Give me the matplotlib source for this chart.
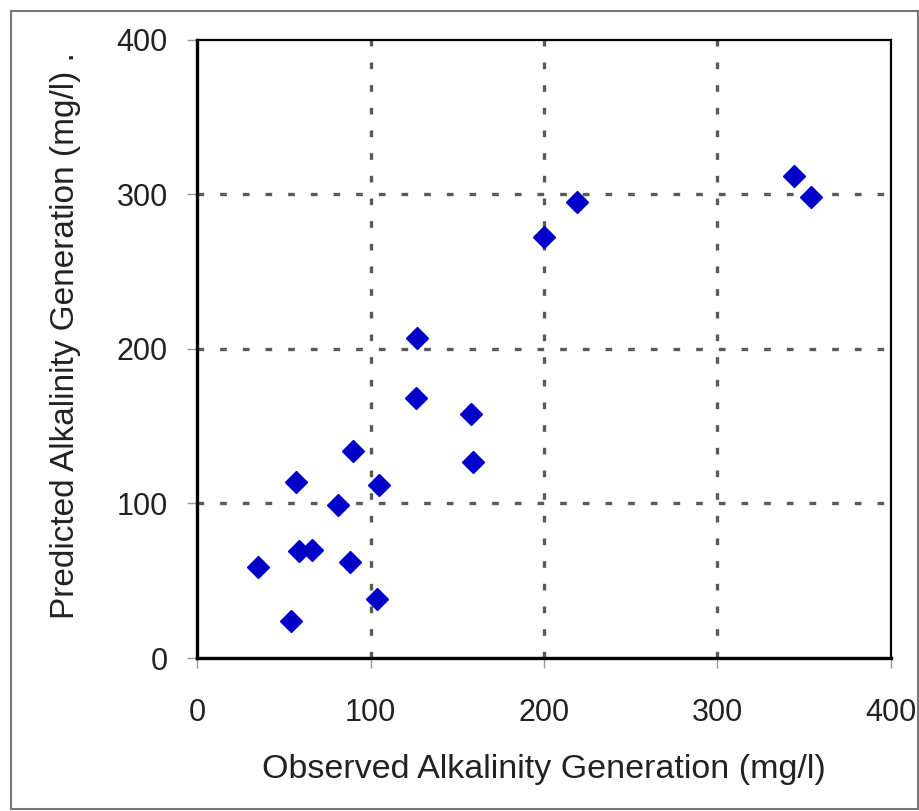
import numpy as np
import matplotlib.pyplot as plt
from matplotlib.patches import Rectangle

# observed vs predicted alkalinity generation (mg/l)
observed = [35, 59, 66, 88, 104, 54, 81, 57, 90, 105, 126, 127, 158, 159, 200, 219, 344, 354]
predicted = [59, 69, 70, 62, 38, 24, 99, 114, 134, 112, 168, 207, 158, 127, 272, 295, 312, 298]

x_ticks = [0, 100, 200, 300, 400]
y_ticks = [0, 100, 200, 300, 400]

plt.rcParams['font.family'] = ['Liberation Sans', 'DejaVu Sans']

fig = plt.figure(figsize=(9.2, 8.11), dpi=100)
ax = fig.add_axes([197 / 920, 1 - 658 / 811, 694 / 920, 618.5 / 811])

# grey frame round the whole picture
fig.patches.append(Rectangle((11 / 920, 1 - 809 / 811), 907 / 920, 798 / 811,
                             transform=fig.transFigure, fill=False,
                             edgecolor='#777777', linewidth=1.5))

# dotted grid on the interior ticks only
for v in x_ticks[1:-1]:
    ax.axvline(v, color='#5a5a5a', linewidth=2.4, linestyle=(0, (2.0, 4.8)), zorder=1)
for v in y_ticks[1:-1]:
    ax.axhline(v, color='#5a5a5a', linewidth=2.4, linestyle=(0, (2.0, 4.8)), zorder=1)

ax.plot(observed, predicted, linestyle='none', marker='D', markersize=11.5,
        color='#0000c8', markeredgecolor='#0000c8', zorder=3)

ax.set_xlim(0, 400)
ax.set_ylim(0, 400)
ax.set_xticks(x_ticks)
ax.set_yticks(y_ticks)
ax.tick_params(direction='out', length=7, width=1, color='#999999',
               labelsize=22, labelcolor='#222222')
ax.tick_params(axis='x', pad=22)
ax.tick_params(axis='y', pad=14)

for side in ['left', 'bottom']:
    ax.spines[side].set_linewidth(2.4)
for side in ['top', 'right']:
    ax.spines[side].set_linewidth(1.6)

ax.set_xlabel('Observed Alkalinity Generation (mg/l)', fontsize=24.5, color='#222222',
              ha='center', va='center')
ax.xaxis.set_label_coords(0.5, -0.181)
ax.set_ylabel('Predicted Alkalinity Generation (mg/l) .', fontsize=24, color='#222222',
              ha='center', va='center')
ax.yaxis.set_label_coords(-0.19, 0.522)

fig.savefig('out.png', dpi=100)
